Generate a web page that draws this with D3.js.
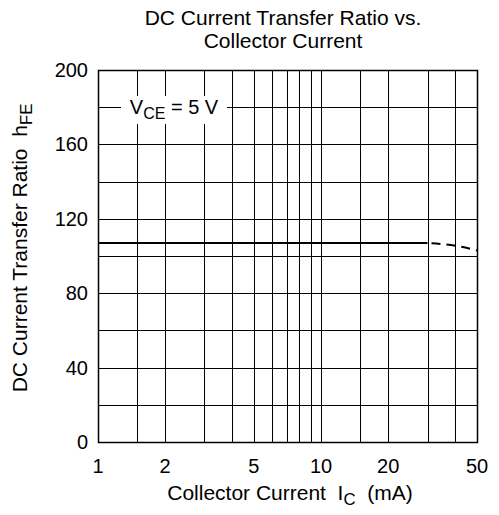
<!DOCTYPE html>
<html><head><meta charset="utf-8">
<script src="https://cdn.jsdelivr.net/npm/d3@7"></script>
<style>body{margin:0;background:#fff}text{font-family:"Liberation Sans",Arial,sans-serif;fill:#000;white-space:pre}</style>
</head><body><svg id="c" width="499" height="515"></svg>
<script>
const xGrid = [1,1.5,2,3,4,5,6,7,8,9,10,15,20,30,40,50];
const xTickLabels = [1,2,5,10,20,50];
const yTicks = [0,40,80,120,160,200];
const yGrid = [0,20,40,60,80,100,120,140,160,180,200];
const solidX = [1,30];
const solidY = [107,107];
const dashX = [30,40,50];
const dashY = [107,105.5,103];

const svg = d3.select("#c");
const L=98,R=477,T=70,B=442;
const FS=20, FT=21;
const x = d3.scaleLog().domain([1,50]).range([L,R]);
const y = d3.scaleLinear().domain([0,200]).range([B,T]);

const g = svg.append("g");
g.selectAll(".vg").data(xGrid).join("line")
 .attr("x1",d=>Math.round(x(d))+0.5).attr("x2",d=>Math.round(x(d))+0.5)
 .attr("y1",T).attr("y2",B).attr("stroke","#000").attr("stroke-width",1);
g.selectAll(".hg").data(yGrid).join("line")
 .attr("y1",d=>Math.round(y(d))+0.5).attr("y2",d=>Math.round(y(d))+0.5)
 .attr("x1",L).attr("x2",R).attr("stroke","#000").attr("stroke-width",1);

// label box
const lab = svg.append("g");
lab.append("rect").attr("x",121).attr("y",96).attr("width",106).attr("height",28).attr("fill","#fff");
const t = lab.append("text").attr("x",174).attr("y",114).attr("text-anchor","middle").attr("font-size",FS);
t.append("tspan").text("V");
t.append("tspan").attr("font-size",FS*0.8).attr("dy",5).text("CE");
t.append("tspan").attr("dy",-5).text(" = 5 V");

svg.append("rect").attr("x",L+0.5).attr("y",T+0.5).attr("width",R-L).attr("height",B-T)
 .attr("fill","none").attr("stroke","#000").attr("stroke-width",1.5);

const line = d3.line().x(d=>x(d[0])).y(d=>y(d[1])).curve(d3.curveMonotoneX);
svg.append("path").attr("d",line(solidX.map((v,i)=>[v,solidY[i]])))
 .attr("fill","none").attr("stroke","#000").attr("stroke-width",2);
svg.append("path").attr("d",line(dashX.map((v,i)=>[v,dashY[i]])))
 .attr("fill","none").attr("stroke","#000").attr("stroke-width",2).attr("stroke-dasharray","9,6").attr("stroke-dashoffset",-4);

// axes labels
svg.selectAll(".yl").data(yTicks).join("text").attr("x",88).attr("y",d=>y(d)+7)
 .attr("text-anchor","end").attr("font-size",FS).text(d=>d);
svg.selectAll(".xl").data(xTickLabels).join("text").attr("x",d=>x(d)).attr("y",473)
 .attr("text-anchor","middle").attr("font-size",FS).text(d=>d);

const xt = svg.append("text").attr("x",290).attr("y",500).attr("text-anchor","middle").attr("font-size",FT);
xt.append("tspan").text("Collector Current  I");
xt.append("tspan").attr("font-size",FT*0.8).attr("dy",5).text("C");
xt.append("tspan").attr("dy",-5).text("  (mA)");

const yt = svg.append("text").attr("transform","translate(27,248) rotate(-90)").attr("text-anchor","middle").attr("font-size",FT);
yt.append("tspan").text("DC Current Transfer Ratio  h");
yt.append("tspan").attr("font-size",FT*0.8).attr("dy",5).text("FE");

svg.append("text").attr("x",283).attr("y",25).attr("text-anchor","middle").attr("font-size",FT).text("DC Current Transfer Ratio vs.");
svg.append("text").attr("x",283).attr("y",48).attr("text-anchor","middle").attr("font-size",FT).text("Collector Current");
</script></body></html>
